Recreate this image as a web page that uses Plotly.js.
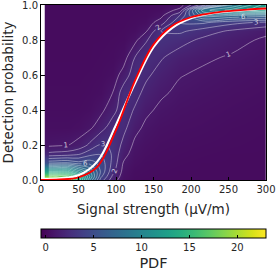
<!DOCTYPE html>
<html>
<head>
<meta charset="utf-8">
<script src="https://cdn.plot.ly/plotly-3.0.1.min.js"></script>
<style>html,body{margin:0;padding:0;background:#fff;}#chart{width:276px;height:276px;}</style>
</head>
<body>
<div id="chart"></div>
<script>
// Grid of signal strengths (columns) and detection probabilities (rows) for the PDF map
const signalGrid = [10, 20, 35, 50, 65, 80, 95, 110, 125, 140, 160, 185, 215, 255, 300];
const probGrid = [0, 0.02, 0.05, 0.1, 0.15, 0.2, 0.3, 0.4, 0.5, 0.6, 0.7, 0.8, 0.85, 0.9, 0.94, 0.97, 1.0];

// PDF values read per column (bottom to top, matching probGrid)
const pdfS10  = [22, 19, 13, 5.5, 2.2, 0.8, 0.4, 0.3, 0.25, 0.22, 0.2, 0.2, 0.2, 0.2, 0.2, 0.2, 0.2];
const pdfS20  = [21.5, 19, 13, 5.6, 2.3, 0.85, 0.4, 0.3, 0.25, 0.22, 0.2, 0.2, 0.2, 0.2, 0.2, 0.2, 0.2];
const pdfS35  = [19, 18, 13, 5.8, 2.4, 0.95, 0.4, 0.3, 0.25, 0.22, 0.2, 0.2, 0.2, 0.2, 0.2, 0.2, 0.2];
const pdfS50  = [14, 14, 10.5, 5.2, 2.8, 1.3, 0.5, 0.3, 0.25, 0.22, 0.2, 0.2, 0.2, 0.2, 0.2, 0.2, 0.2];
const pdfS65  = [8, 9, 8, 5.5, 3.6, 2.2, 0.8, 0.4, 0.3, 0.25, 0.2, 0.2, 0.2, 0.2, 0.2, 0.2, 0.2];
const pdfS80  = [3.5, 4.2, 4.8, 4.6, 3.9, 3.1, 1.6, 0.75, 0.4, 0.3, 0.25, 0.2, 0.2, 0.2, 0.2, 0.2, 0.2];
const pdfS95  = [1.5, 1.9, 2.4, 2.8, 2.9, 2.9, 2.5, 1.6, 0.95, 0.45, 0.3, 0.25, 0.2, 0.2, 0.2, 0.2, 0.2];
const pdfS110 = [0.45, 0.55, 0.7, 0.95, 1.3, 1.7, 2.3, 2.6, 2.5, 1.4, 0.55, 0.3, 0.25, 0.22, 0.2, 0.2, 0.2];
const pdfS125 = [0.25, 0.3, 0.35, 0.5, 0.65, 0.8, 1.3, 1.9, 2.4, 2.6, 2.0, 0.7, 0.4, 0.3, 0.25, 0.2, 0.2];
const pdfS140 = [0.2, 0.25, 0.3, 0.35, 0.45, 0.55, 0.8, 1.2, 1.7, 2.2, 2.6, 1.9, 0.9, 0.45, 0.3, 0.25, 0.2];
const pdfS160 = [0.2, 0.2, 0.25, 0.3, 0.35, 0.4, 0.55, 0.8, 1.15, 1.6, 2.1, 2.8, 3.0, 1.5, 0.7, 0.4, 0.3];
const pdfS185 = [0.2, 0.2, 0.2, 0.25, 0.3, 0.35, 0.45, 0.6, 0.8, 1.05, 1.5, 2.4, 3.2, 4.0, 3.0, 1.3, 0.5];
const pdfS215 = [0.2, 0.2, 0.2, 0.2, 0.25, 0.3, 0.4, 0.5, 0.65, 0.85, 1.15, 1.8, 2.5, 4.2, 7.5, 9.5, 3.5];
const pdfS255 = [0.2, 0.2, 0.2, 0.2, 0.2, 0.25, 0.3, 0.4, 0.5, 0.65, 0.9, 1.3, 1.8, 3.3, 7.0, 11.5, 9];
const pdfS300 = [0.2, 0.2, 0.2, 0.2, 0.2, 0.2, 0.25, 0.3, 0.4, 0.5, 0.65, 0.85, 1.2, 2.8, 6.5, 12.5, 12.5];

// Detection probability curves
const curveSignal = [0, 25, 50, 75, 100, 125, 150, 175, 200, 225, 250, 275, 300];
const whiteCurve  = [0.006, 0.01, 0.027, 0.105, 0.315, 0.55, 0.76, 0.87, 0.925, 0.95, 0.963, 0.972, 0.979];
const redCurve    = [0.0, 0.003, 0.015, 0.075, 0.285, 0.565, 0.775, 0.882, 0.93, 0.952, 0.965, 0.974, 0.98];

const colorbarTicks = [0, 5, 10, 15, 20];

const columns = [pdfS10, pdfS20, pdfS35, pdfS50, pdfS65, pdfS80, pdfS95, pdfS110, pdfS125, pdfS140, pdfS160, pdfS185, pdfS215, pdfS255, pdfS300];
const z = probGrid.map((_, r) => columns.map(col => col[r]));

const font = 'DejaVu Sans, sans-serif';
const txt = '#262626';
const lineCol = 'rgba(255,255,255,0.5)';
const lblFont = {family: font, size: 7, color: 'rgba(255,255,255,0.75)'};

function contourTrace(start, end, labels) {
  return {
    type: 'contour', x: signalGrid, y: probGrid, z: z, showscale: false,
    contours: {coloring: 'none', start: start, end: end, size: 1, showlabels: labels, labelfont: lblFont},
    line: {color: lineCol, width: 0.8, smoothing: 1},
    hoverinfo: 'skip'
  };
}

const traces = [
  {
    type: 'heatmap', x: signalGrid, y: probGrid, z: z,
    zsmooth: 'best', colorscale: 'Viridis', zmin: -0.5, zmax: 23,
    colorbar: {
      orientation: 'h', x: 0.5, xanchor: 'center', len: 1, lenmode: 'fraction',
      thickness: 9, thicknessmode: 'pixels', y: -0.28, yanchor: 'top',
      xpad: 0, ypad: 0, outlinewidth: 1, outlinecolor: '#000',
      ticks: 'inside', ticklen: 3, tickcolor: '#000', tickvals: colorbarTicks,
      tickfont: {family: font, size: 10, color: txt},
      title: {text: 'PDF', side: 'bottom', font: {family: font, size: 14.5, color: txt}}
    },
    hoverinfo: 'skip'
  },
  contourTrace(1, 3, true),
  contourTrace(4, 5, false),
  contourTrace(6, 6, true),
  contourTrace(7, 21, false),
  {
    type: 'scatter', mode: 'lines', x: curveSignal, y: whiteCurve,
    line: {color: '#ffffff', width: 2.2, shape: 'spline'}, hoverinfo: 'skip'
  },
  {
    type: 'scatter', mode: 'lines', x: curveSignal, y: redCurve,
    line: {color: '#ff0000', width: 1.8, shape: 'spline'}, hoverinfo: 'skip'
  }
];

const axisCommon = {
  showline: true, linecolor: '#000', linewidth: 1, mirror: true,
  ticks: 'inside', ticklen: 3.5, tickcolor: '#000', showgrid: false, zeroline: false,
  ticklabeloverflow: 'allow',
  tickfont: {family: font, size: 10, color: txt}
};

const layout = {
  width: 276, height: 276,
  margin: {l: 41, r: 10, t: 5, b: 90},
  paper_bgcolor: '#fff', plot_bgcolor: '#fff',
  showlegend: false,
  xaxis: Object.assign({}, axisCommon, {
    range: [0, 300], tickvals: [0, 50, 100, 150, 200, 250, 300],
    title: {text: 'Signal strength (\u03bcV/m)', font: {family: font, size: 13.5, color: txt}, standoff: 10}
  }),
  yaxis: Object.assign({}, axisCommon, {
    range: [0, 1], tickvals: [0, 0.2, 0.4, 0.6, 0.8, 1.0], tickformat: '.1f',
    title: {text: 'Detection probability', font: {family: font, size: 13.5, color: txt}, standoff: 5}
  })
};

Plotly.newPlot('chart', traces, layout, {staticPlot: true, displayModeBar: false});
</script>
</body>
</html>
